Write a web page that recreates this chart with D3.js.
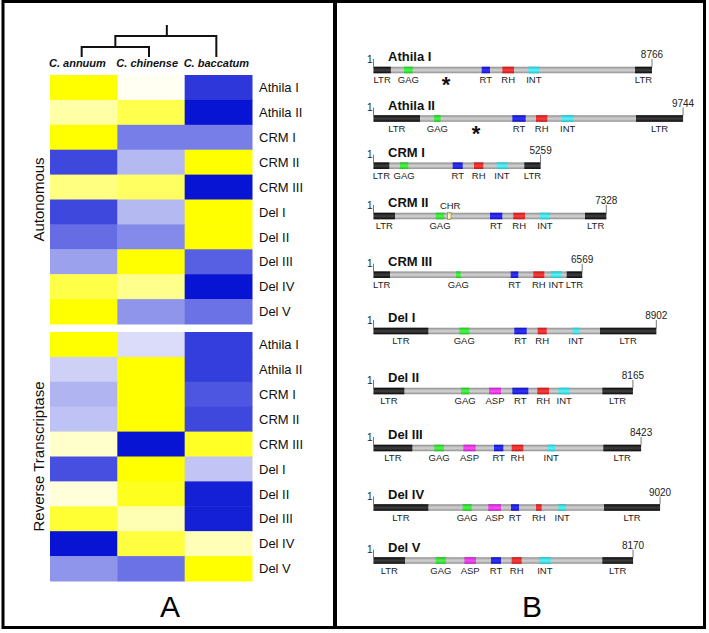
<!DOCTYPE html>
<html><head><meta charset="utf-8">
<script src="https://cdn.jsdelivr.net/npm/d3@7"></script>
<style>html,body{margin:0;padding:0;background:#fff}svg{display:block}</style>
</head><body>
<svg id="fig" width="709" height="633"></svg>
<script>
// ---------- DATA ----------
const species = ["C. annuum", "C. chinense", "C. baccatum"];
const elementNames = ["Athila I","Athila II","CRM I","CRM II","CRM III","Del I","Del II","Del III","Del IV","Del V"];
const groupNames = ["Autonomous", "Reverse Transcriptase"];
// relative abundance (-1 = blue, +1 = yellow)
const autonomous = [
  [ 1.00,  0.05, -0.85],
  [ 0.35,  0.70, -1.00],
  [ 1.00, -0.55, -0.55],
  [-0.78, -0.30,  1.00],
  [ 0.50,  0.62, -1.00],
  [-0.78, -0.30,  1.00],
  [-0.62, -0.50,  1.00],
  [-0.40,  1.00, -0.68],
  [ 0.72,  0.45, -1.00],
  [ 1.00, -0.45, -0.60]
];
const reverseTranscriptase = [
  [ 1.00, -0.15, -0.82],
  [-0.20,  1.00, -0.82],
  [-0.32,  1.00, -0.72],
  [-0.26,  1.00, -0.78],
  [ 0.20, -1.00,  0.85],
  [-0.75,  1.00, -0.25],
  [ 0.15,  0.88, -0.95],
  [ 0.80,  0.30, -0.95],
  [-1.00,  0.75,  0.28],
  [-0.45, -0.60,  1.00]
];
// element lengths (bp) and domain coordinates (bp)
const elementLengths = [8766, 9744, 5259, 7328, 6569, 8902, 8165, 8423, 9020, 8170];
const elementDomains = [
  [["LTR",0,545],["GAG",960,1234],["RT",3405,3667],["RH",4055,4423],["INT",4873,5219],["LTR",8231,8766]],
  [["LTR",0,1464],["GAG",1905,2114],["RT",4370,4790],["RH",5115,5472],["INT",5933,6290],["LTR",8263,9744]],
  [["LTR",0,497],["GAG",834,1096],["RT",2493,2808],["RH",3163,3457],["INT",3877,4212],["LTR",4747,5259]],
  [["LTR",0,677],["GAG",1957,2229],["CHR",2325,2440],["RT",3667,4055],["RH",4400,4770],["INT",5241,5556],["LTR",6657,7328]],
  [["LTR",0,519],["GAG",2597,2745],["RT",4318,4558],["RH",5030,5376],["INT",5577,5923],["LTR",6081,6569]],
  [["LTR",0,1725],["GAG",2701,3015],["RT",4432,4822],["RH",5168,5452],["INT",6270,6478],["LTR",7129,8902]],
  [["LTR",0,970],["GAG",2754,3015],["ASP",3636,4013],["RT",4370,4873],["RH",5157,5524],["INT",5818,6186],["LTR",7203,8165]],
  [["LTR",0,1222],["GAG",1915,2219],["ASP",2828,3217],["RT",3793,4086],["RH",4349,4715],["INT",5472,5713],["LTR",7234,8423]],
  [["LTR",0,1725],["GAG",2807,3091],["ASP",3614,4013],["RT",4328,4580],["RH",5115,5294],["INT",5818,6060],["LTR",7255,9020]],
  [["LTR",0,992],["GAG",1957,2282],["ASP",2860,3227],["RT",3699,4013],["RH",4349,4664],["INT",5209,5577],["LTR",7203,8170]]
];
// positions (bp) of the asterisks marking Athila elements
const asteriskPositions = [2282, 3226, null, null, null, null, null, null, null, null];

// ---------- LAYOUT / STYLE ----------
const FONT = "'Liberation Sans', Arial, Helvetica, sans-serif";
const svg = d3.select("#fig");

// panel frames
svg.append("rect").attr("x",3).attr("y",1.5).attr("width",701.5).attr("height",626)
  .attr("fill","none").attr("stroke","#000").attr("stroke-width",3);
svg.append("line").attr("x1",335).attr("x2",335).attr("y1",0).attr("y2",629)
  .attr("stroke","#000").attr("stroke-width",4);

// ---------- PANEL A : heatmap ----------
const color = d3.scaleLinear().domain([-1, 0, 1])
  .range(["#0814d4", "#ffffff", "#ffff00"]).interpolate(d3.interpolateRgb);
const xHeat = d3.scaleBand().domain(species).range([50, 252]);
const groupRanges = [[75, 324], [332, 581]];
const groupData = [autonomous, reverseTranscriptase];

groupData.forEach((mat, gi) => {
  const y = d3.scaleBand().domain(elementNames).range(groupRanges[gi]);
  const g = svg.append("g");
  mat.forEach((row, ri) => {
    row.forEach((v, ci) => {
      g.append("rect")
        .attr("x", xHeat(species[ci])).attr("y", y(elementNames[ri]))
        .attr("width", xHeat.bandwidth() + 0.5).attr("height", y.bandwidth() + 0.5)
        .attr("fill", color(v));
    });
  });
  g.selectAll("text.row").data(elementNames).join("text")
    .attr("x", 259).attr("y", d => y(d) + y.bandwidth() / 2)
    .attr("dy", "0.36em")
    .attr("font-family", FONT).attr("font-size", 13).attr("fill", "#111")
    .text(d => d);
  const cy = (groupRanges[gi][0] + groupRanges[gi][1]) / 2;
  svg.append("text")
    .attr("transform", `translate(43.5,${cy}) rotate(-90)`)
    .attr("text-anchor", "middle")
    .attr("font-family", FONT).attr("font-size", 15).attr("fill", "#111")
    .text(groupNames[gi]);
});

// column labels
svg.selectAll("text.sp").data(species).join("text")
  .attr("x", d => xHeat(d) - 1).attr("y", 67)
  .attr("font-family", FONT).attr("font-size", 11)
  .attr("font-weight", "bold").attr("font-style", "italic").attr("fill", "#111")
  .text(d => d);

// dendrogram: ((annuum, chinense), baccatum)
const cx = d => xHeat(d) + xHeat.bandwidth() / 2 - 2;
const leafY = 57, n1Y = 47, n2Y = 36, rootY = 25;
const xA = cx(species[0]), xC = cx(species[1]), xB = cx(species[2]);
const xN1 = (xA + xC) / 2, xRoot = (xN1 + xB) / 2 + 1;
const dendro = svg.append("g").attr("stroke", "#111").attr("stroke-width", 2).attr("fill", "none");
dendro.append("path").attr("d", `M${xA},${leafY}V${n1Y}H${xC}V${leafY}`);
dendro.append("path").attr("d", `M${xN1},${n1Y}V${n2Y}H${xB}V${leafY}`);
dendro.append("path").attr("d", `M${xRoot},${n2Y}V${rootY}`);

svg.append("text").attr("x", 170).attr("y", 617).attr("text-anchor", "middle")
  .attr("font-family", FONT).attr("font-size", 30).attr("fill", "#000").text("A");

// ---------- PANEL B : element structures ----------
const xBp = d3.scaleLinear().domain([0, 10000]).range([373.5, 691.2]);
const rowY = [70, 118.5, 165.7, 216, 274.7, 331, 391, 448, 507.5, 560.5];
const barH = 6.5;

const palette = {
  BAR: ["#8e8e8e", "#cdcdcd"],
  LTR: ["#080808", "#3a3a3a"],
  GAG: ["#18c418", "#4cf04c"],
  RT:  ["#1010c8", "#3030f0"],
  RH:  ["#cc1212", "#f23c3c"],
  INT: ["#18c4cc", "#5cecf2"],
  ASP: ["#c818c8", "#f04ef0"],
  CHR: ["#e2dc86", "#fffce0"]
};
const defs = svg.append("defs");
Object.entries(palette).forEach(([k, [dark, light]]) => {
  const gr = defs.append("linearGradient").attr("id", "g" + k)
    .attr("x1", 0).attr("x2", 0).attr("y1", 0).attr("y2", 1);
  gr.append("stop").attr("offset", "0%").attr("stop-color", dark);
  gr.append("stop").attr("offset", "45%").attr("stop-color", light);
  gr.append("stop").attr("offset", "60%").attr("stop-color", light);
  gr.append("stop").attr("offset", "100%").attr("stop-color", dark);
});

elementNames.forEach((name, i) => {
  const yc = rowY[i];
  const len = elementLengths[i];
  const g = svg.append("g");
  // backbone
  g.append("rect").attr("x", xBp(0)).attr("y", yc - barH / 2)
    .attr("width", xBp(len) - xBp(0)).attr("height", barH).attr("fill", "url(#gBAR)");
  // end ticks
  [0, len].forEach(p => {
    g.append("line").attr("x1", xBp(p)).attr("x2", xBp(p))
      .attr("y1", yc - barH / 2).attr("y2", yc - 11)
      .attr("stroke", "#555").attr("stroke-width", 0.8);
  });
  // domains
  elementDomains[i].forEach(([type, s, e]) => {
    g.append("rect").attr("x", xBp(s)).attr("y", yc - barH / 2)
      .attr("width", xBp(e) - xBp(s)).attr("height", barH)
      .attr("fill", `url(#g${type})`)
      .attr("stroke", type === "CHR" ? "#8a7a20" : "none")
      .attr("stroke-width", type === "CHR" ? 0.6 : 0);
    const lx = xBp((s + e) / 2);
    if (type === "CHR") {
      g.append("text").attr("x", lx + 1).attr("y", yc - 7)
        .attr("text-anchor", "middle").attr("font-family", FONT).attr("font-size", 9.5)
        .attr("fill", "#222").text(type);
    } else {
      g.append("text").attr("x", lx).attr("y", yc + 13)
        .attr("text-anchor", "middle").attr("font-family", FONT).attr("font-size", 9.5)
        .attr("fill", "#222").text(type);
    }
  });
  // title, start, end
  g.append("text").attr("x", 388).attr("y", yc - 9)
    .attr("font-family", FONT).attr("font-size", 13).attr("font-weight", "bold")
    .attr("fill", "#111").text(name);
  g.append("text").attr("x", xBp(0) - 1).attr("y", yc - 7.5).attr("text-anchor", "end")
    .attr("font-family", FONT).attr("font-size", 10).attr("fill", "#222").text("1");
  g.append("text").attr("x", xBp(len)).attr("y", yc - 12).attr("text-anchor", "middle")
    .attr("font-family", FONT).attr("font-size", 10).attr("fill", "#222").text(len);
  if (asteriskPositions[i] != null) {
    g.append("text").attr("x", xBp(asteriskPositions[i])).attr("y", yc + 22)
      .attr("text-anchor", "middle").attr("font-family", FONT).attr("font-size", 22)
      .attr("font-weight", "bold").attr("fill", "#111").text("*");
  }
});

svg.append("text").attr("x", 532).attr("y", 617).attr("text-anchor", "middle")
  .attr("font-family", FONT).attr("font-size", 30).attr("fill", "#000").text("B");
</script>
</body></html>
